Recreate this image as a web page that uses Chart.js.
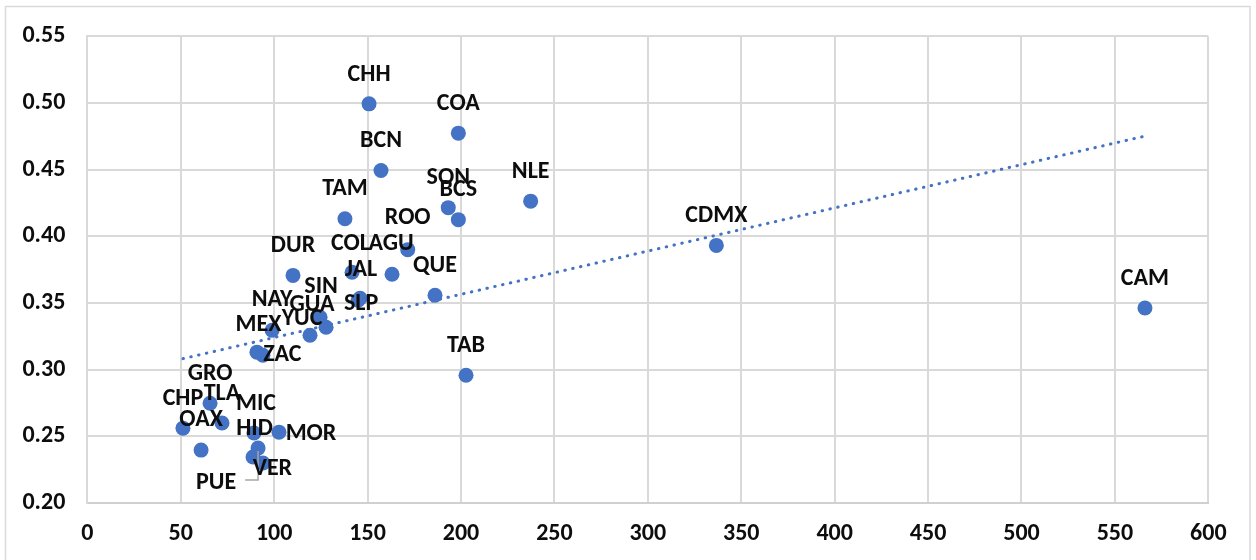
<!DOCTYPE html>
<html><head><meta charset="utf-8">
<script src="https://cdn.jsdelivr.net/npm/chart.js@4.4.0/dist/chart.umd.min.js"></script>
<style>html,body{margin:0;padding:0;background:#fff;}canvas{display:block;}</style>
</head><body>
<canvas id="c" width="1256" height="560"></canvas>
<script>
// ---- data ----
const states = ["CHH","COA","BCN","TAM","SON","BCS","NLE","ROO","CDMX","CAM","TAB",
  "DUR","COL","AGU","JAL","SLP","QUE","SIN","YUC","GUA","NAY","MEX","ZAC",
  "GRO","CHP","TLA","OAX","MIC","MOR","PUE","HID","VER"];
const xValues = [150.8,198.6,157.2,137.9,193.2,198.6,237.3,171.5,336.7,566.1,202.7,
  110.1,141.7,163.1,146.0,144.9,186.1,124.6,127.8,119.2,98.9,90.8,94.0,
  65.7,51.2,72.1,60.9,89.2,102.6,91.4,88.7,94.0];
const yValues = [0.4994,0.4774,0.4494,0.4132,0.4215,0.4125,0.4264,0.3900,0.3932,0.3462,0.2958,
  0.3707,0.3730,0.3715,0.3535,0.3520,0.3558,0.3393,0.3318,0.3258,0.3295,0.3131,0.3108,
  0.2748,0.2561,0.2599,0.2396,0.2524,0.2531,0.2411,0.2344,0.2299];
const xTickValues = [0,50,100,150,200,250,300,350,400,450,500,550,600];
const yTickValues = [0.20,0.25,0.30,0.35,0.40,0.45,0.50,0.55];

// label placement (text offsets from the point, in px) – style only
const defaultLabelOffset = [0,-31];
const labelNudge = {
  COL:[-1.5,-30], AGU:[-1,-32], JAL:[1,-30], SLP:[3,2], SIN:[1,-32], YUC:[-24,-10],
  GUA:[2,-32], NAY:[0,-32], MEX:[1.5,-29], ZAC:[19.5,-2], MIC:[2,-31], OAX:[0,-32],
  MOR:[32,0], PUE:[-42,33], HID:[1.5,-30], VER:[9.5,4], ROO:[0,-33]
};
const leaderLabels = ["PUE"];

// ---- linear trendline (least squares) ----
const n = xValues.length;
const mx = xValues.reduce((a,b)=>a+b,0)/n;
const my = yValues.reduce((a,b)=>a+b,0)/n;
let sxy=0, sxx=0;
for(let i=0;i<n;i++){ sxy+=(xValues[i]-mx)*(yValues[i]-my); sxx+=(xValues[i]-mx)**2; }
const slope = sxy/sxx, intercept = my - slope*mx;
const xMin = Math.min(...xValues), xMax = Math.max(...xValues);
const trendData = [{x:xMin,y:intercept+slope*xMin},{x:xMax,y:intercept+slope*xMax}];

const pointData = xValues.map((x,i)=>({x:x,y:yValues[i]}));

const FAMILY = "Carlito, Lato, sans-serif";
const FONT = {family:FAMILY, size:24, weight:"bold"};

const frame = {
  id:'frame',
  beforeDraw(chart){
    const ctx=chart.ctx; ctx.save();
    ctx.fillStyle='#fff'; ctx.fillRect(0,0,chart.width,chart.height);
    ctx.strokeStyle='#d9d9d9'; ctx.lineWidth=1.5;
    ctx.strokeRect(5.5,6.5,1244.5,600);
    ctx.restore();
  }
};

const pointLabels = {
  id:'pointLabels',
  afterDatasetsDraw(chart){
    const ctx=chart.ctx; const meta=chart.getDatasetMeta(0);
    ctx.save();
    ctx.font='bold 24px ' + FAMILY;
    ctx.textAlign='center';
    ctx.textBaseline='alphabetic';
    meta.data.forEach((pt,i)=>{
      const name=states[i];
      const off=labelNudge[name]||defaultLabelOffset;
      const cx=pt.x+off[0], cy=pt.y+off[1];
      if(leaderLabels.includes(name)){
        const w=ctx.measureText(name).width;
        ctx.strokeStyle='#a6a6a6'; ctx.lineWidth=1.5;
        ctx.beginPath();
        ctx.moveTo(cx+w/2+9, cy-1);
        ctx.lineTo(pt.x, cy-1);
        ctx.lineTo(pt.x, pt.y+3);
        ctx.stroke();
      }
      ctx.fillStyle='#0d0d0d';
      ctx.fillText(name, cx, cy+7.7);
    });
    ctx.restore();
  }
};

new Chart(document.getElementById('c'), {
  type:'scatter',
  data:{datasets:[
    {label:'states', data:pointData, backgroundColor:'#4472C4', borderColor:'#4472C4',
     borderWidth:0, pointRadius:7.5, pointHoverRadius:7.5},
    {label:'trend', type:'line', data:trendData, showLine:true, pointRadius:0,
     borderColor:'#4472C4', borderWidth:3, borderDash:[0.5,7.5], borderCapStyle:'round',
     fill:false, tension:0}
  ]},
  options:{
    responsive:false, animation:false, devicePixelRatio:1,
    layout:{padding:{left:0, top:35.7, right:47.7, bottom:0}},
    plugins:{legend:{display:false}, tooltip:{enabled:false}},
    events:[],
    scales:{
      x:{type:'linear', min:0, max:600,
        afterBuildTicks(s){ s.ticks = xTickValues.map(v=>({value:v})); },
        afterFit(s){ s.height = 57.1; },
        ticks:{font:FONT, color:'#0d0d0d', padding:17, maxRotation:0,
          callback:(v)=>String(v)},
        grid:{color:'#d9d9d9', lineWidth:2, drawTicks:false},
        border:{color:'#d0d0d0', width:2}
      },
      y:{type:'linear', min:0.20, max:0.55,
        afterBuildTicks(s){ s.ticks = yTickValues.map(v=>({value:v})); },
        afterFit(s){ s.width = 87.3; },
        ticks:{font:FONT, color:'#0d0d0d', padding:22,
          callback:(v)=>Number(v).toFixed(2)},
        grid:{color:'#d9d9d9', lineWidth:2, drawTicks:false},
        border:{color:'#d9d9d9', width:2}
      }
    }
  },
  plugins:[frame, pointLabels]
});
</script>
</body></html>
